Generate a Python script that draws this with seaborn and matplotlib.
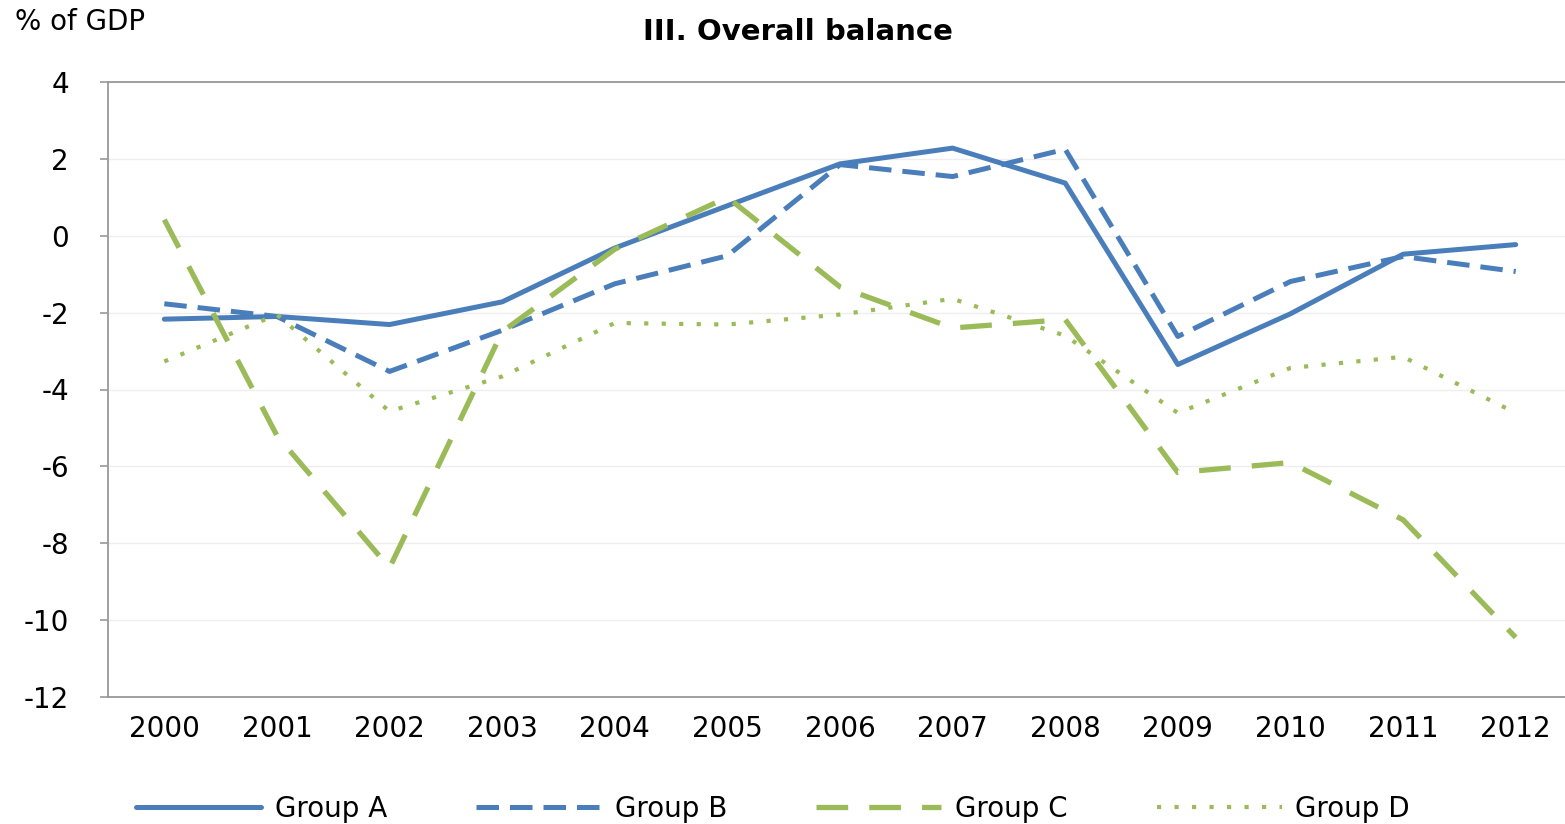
import numpy as np
import pandas as pd
import seaborn as sns
import matplotlib.pyplot as plt

# values (% of GDP)
years = list(range(2000, 2013))
group_a = [-2.17, -2.10, -2.31, -1.72, -0.32, 0.78, 1.87, 2.28, 1.37, -3.35, -2.03, -0.48, -0.23]
group_b = [-1.77, -2.10, -3.53, -2.46, -1.25, -0.52, 1.85, 1.54, 2.25, -2.62, -1.19, -0.54, -0.93]
group_c = [0.42, -5.20, -8.64, -2.50, -0.35, 1.00, -1.33, -2.40, -2.18, -6.16, -5.90, -7.39, -10.45]
group_d = [-3.27, -2.05, -4.57, -3.66, -2.27, -2.31, -2.05, -1.64, -2.60, -4.61, -3.44, -3.15, -4.61]
group_names = ['Group A', 'Group B', 'Group C', 'Group D']

df = pd.DataFrame({
    'year': years * 4,
    'value': group_a + group_b + group_c + group_d,
    'group': np.repeat(group_names, len(years)),
})

blue = '#4a7ebb'
green = '#9bbb59'
styles = {
    'Group A': dict(color=blue, linewidth=3.6, linestyle='-'),
    'Group B': dict(color=blue, linewidth=3.6, linestyle=(0, (4.5, 2.2))),
    'Group C': dict(color=green, linewidth=3.8, linestyle=(0, (6, 4))),
    'Group D': dict(color=green, linewidth=3.0, linestyle=(0, (1, 3.2))),
}

sns.set_style('white')
plt.rcParams['font.family'] = ['DejaVu Sans']
plt.rcParams['axes.unicode_minus'] = False
plt.rcParams['text.color'] = 'black'
plt.rcParams['xtick.color'] = 'black'
plt.rcParams['ytick.color'] = 'black'

fig = plt.figure(figsize=(15.65, 8.24), dpi=100)
ax = fig.add_axes([108 / 1565, 1 - 697 / 824, 1464 / 1565, 615 / 824])

for g in group_names:
    sub = df[df['group'] == g]
    sns.lineplot(data=sub, x='year', y='value', ax=ax, label=g, **styles[g])

ax.set_xlim(1999.5, 2012.5)
ax.set_ylim(-12, 4)
ax.set_yticks(range(-12, 5, 2))
ax.set_xticks(years)
ax.set_xticklabels([str(y) for y in years])
ax.set_xticks([y + 0.5 for y in years[:-1]], minor=True)
ax.tick_params(axis='x', which='major', length=0, pad=13, labelsize=20)
ax.tick_params(axis='x', which='minor', length=8, width=1.2, color='#999999', direction='out')
ax.tick_params(axis='y', length=6, width=1.2, color='#999999', pad=22, labelsize=20, left=True)
ax.set_xlabel('')
ax.set_ylabel('')

ax.yaxis.grid(True, color='#eeeeee', linewidth=1)
ax.xaxis.grid(False)
for side in ['left', 'bottom', 'top']:
    ax.spines[side].set_color('#999999')
    ax.spines[side].set_linewidth(1.3)
ax.spines['right'].set_visible(False)

fig.text(15 / 1565, 1 - 22 / 824, '% of GDP', fontsize=20, va='center', ha='left')
fig.text(798 / 1565, 1 - 32 / 824, 'III. Overall balance', fontsize=21, fontweight='bold',
         va='center', ha='center')

handles, labels = ax.get_legend_handles_labels()
ax.get_legend().remove()
fig.legend(handles, labels, loc='lower center', bbox_to_anchor=(773 / 1565, 0.0),
           bbox_transform=fig.transFigure, borderaxespad=0.0, borderpad=0.05,
           ncol=4, frameon=False, fontsize=20, handlelength=4.5, handletextpad=0.5,
           columnspacing=3.2)

fig.savefig('out.png', dpi=100)
